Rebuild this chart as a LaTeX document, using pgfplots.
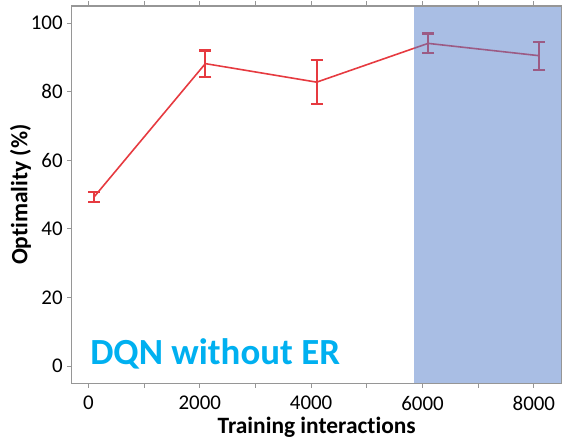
\documentclass[border=0pt]{standalone}
\usepackage{pgfplots}
\pgfplotsset{compat=1.18}
\usepackage{fontspec}
\setmainfont{Carlito}[RawFeature={-liga;-clig;-calt;-dlig}]

\definecolor{linered}{RGB}{230,58,64}
\definecolor{shadeblue}{RGB}{83,125,201}
\definecolor{axisgray}{RGB}{150,150,150}
\definecolor{titlecyan}{RGB}{0,176,240}

\begin{document}
\begin{tikzpicture}
\useasboundingbox (-71.7bp,-56.7bp) rectangle (490.3bp,383.3bp);
\begin{axis}[
  scale only axis,
  width=490bp, height=377.3bp,
  xmin=-300, xmax=8500,
  ymin=-5, ymax=105,
  axis on top,
  axis line style={axisgray, line width=1.3pt},
  tick style={axisgray, line width=1pt},
  tick align=outside,
  major tick length=4.5bp,
  xtick={0,1000,...,8000},
  xticklabels={0,,2000,,4000,,6000,,8000},
  ytick={0,20,...,100},
  /pgf/number format/assume math mode=true,
  ticklabel style={font=\fontsize{21}{21}\selectfont},
  xticklabel style={yshift=-5bp},
  yticklabel style={xshift=-1bp},
  xlabel={\textbf{Training interactions}},
  ylabel={\textbf{Optimality (\%)}},
  label style={font=\fontsize{23.5}{23.5}\selectfont},
  xlabel style={yshift=1bp},
  ylabel style={yshift=-7bp},
  clip=false,
]
% mean optimality with standard deviation
\addplot[linered, line width=1.6pt, mark=none,
  error bars/.cd, y dir=both, y explicit,
  error bar style={line width=2pt},
  error mark options={rotate=90, mark size=6bp, line width=2.2pt}]
  coordinates {
    (100,49.3)  +- (0,1.5)
    (2100,88.2) +- (0,3.8)
    (4100,82.8) +- (0,6.4)
    (6100,94.1) +- (0,2.9)
    (8100,90.5) +- (0,4.1)
  };
% highlighted late-training region
\addplot[draw=none, fill=shadeblue, fill opacity=0.5]
  coordinates {(5850,-5) (8500,-5) (8500,105) (5850,105)} -- cycle;
\node[anchor=base west, text=titlecyan, font=\fontsize{37}{37}\selectfont\bfseries, inner sep=0pt]
  at (axis cs:30,0.4) {DQN without ER};
\end{axis}
\end{tikzpicture}
\end{document}
